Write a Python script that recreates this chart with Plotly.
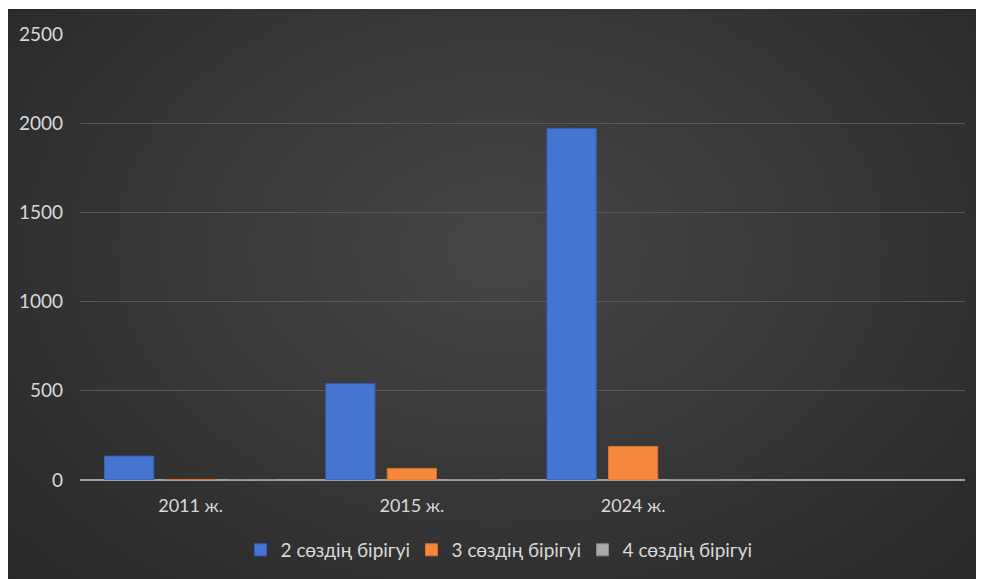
import plotly.graph_objects as go

categories = ["2011 ж.", "2015 ж.", "2024 ж.", " "]
series_names = ["2 сөздің бірігуі", "3 сөздің бірігуі", "4 сөздің бірігуі"]
two_words = [134, 540, 1970, None]
three_words = [3, 65, 188, None]
four_words = [0, 1, 3, None]
y_ticks = [0, 500, 1000, 1500, 2000, 2500]

OFF = 8  # page body margin in the browser
W, H = 1000, 579
L, R, T, B = 80 - OFF, 43, 34 - OFF, 107
pw, ph = W - L - R, H - T - B

def px_x(p):
    return (p - OFF - L) / pw

def px_y(p):
    return (H - B - (p - OFF)) / ph

colors = ["#4674d2", "#f5883a", "#a9a9a9"]
edge = ["#3560b8", "#d9712a", "#8a8a8a"]

fig = go.Figure()
for name, vals, c, e in zip(series_names, [two_words, three_words, four_words], colors, edge):
    fig.add_trace(go.Bar(x=categories, y=vals, name=name,
                         marker=dict(color=c, line=dict(color=e, width=1))))

shapes = []
shapes.append(dict(type="rect", xref="paper", yref="paper", layer="below",
                   x0=px_x(4), x1=px_x(1020), y0=px_y(600), y1=px_y(9),
                   fillcolor="#272727", line=dict(width=0)))
cx, cy = 500, 250
n = 30
for i in range(n):
    r = 640 - i * 21
    shapes.append(dict(type="circle", xref="paper", yref="paper", layer="below",
                       x0=px_x(cx - r * 1.05), x1=px_x(cx + r * 1.05),
                       y0=px_y(cy + r * 0.75), y1=px_y(cy - r * 0.75),
                       fillcolor="rgba(255,255,255,0.008)", line=dict(width=0)))
shapes.append(dict(type="rect", xref="paper", yref="paper", layer="below",
                   x0=px_x(-20), x1=px_x(1020), y0=px_y(9), y1=px_y(-40),
                   fillcolor="white", line=dict(width=0)))
shapes.append(dict(type="rect", xref="paper", yref="paper", layer="below",
                   x0=px_x(-20), x1=px_x(4), y0=px_y(600), y1=px_y(-40),
                   fillcolor="white", line=dict(width=0)))

fig.update_layout(
    width=W, height=H,
    margin=dict(l=L, r=R, t=T, b=B),
    paper_bgcolor="#272727",
    plot_bgcolor="rgba(0,0,0,0)",
    barmode="group",
    bargap=0.166,
    bargroupgap=0.2,
    shapes=shapes,
    font=dict(family="Lato, Open Sans, sans-serif", color="#d9d9d9", size=19),
    showlegend=True,
    legend=dict(orientation="h", x=px_x(497), xanchor="center",
                y=px_y(550), yanchor="middle",
                bgcolor="rgba(0,0,0,0)", font=dict(size=19, color="#d9d9d9"),
                itemwidth=30, entrywidth=126, entrywidthmode="pixels"),
    xaxis=dict(showgrid=False, showline=False, zeroline=False,
               tickfont=dict(size=18, color="#d9d9d9"), ticks="",
               ticklabelstandoff=13, fixedrange=True),
    yaxis=dict(range=[0, 2500], tickvals=y_ticks, showgrid=True,
               gridcolor="#595959", gridwidth=1,
               zeroline=True, zerolinecolor="#a0a0a0", zerolinewidth=2,
               showline=False, ticks="", ticklabelstandoff=16,
               tickfont=dict(size=19, color="#d9d9d9")),
)

fig.write_html("out.html")
